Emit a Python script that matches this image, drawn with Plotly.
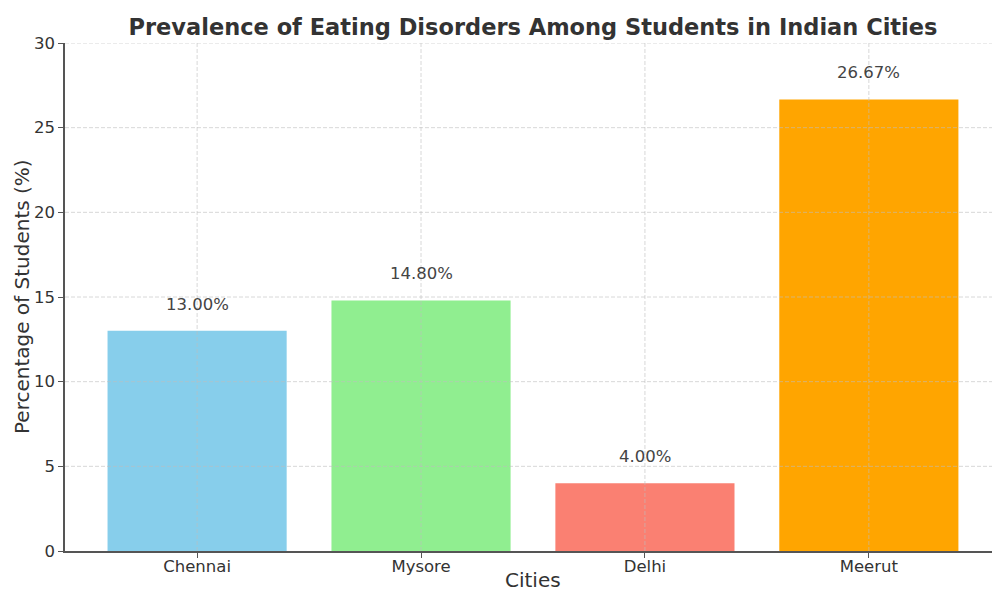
import plotly.graph_objects as go

cities = ["Chennai", "Mysore", "Delhi", "Meerut"]
prevalence = [13.00, 14.80, 4.00, 26.67]
bar_colors = ["#87CEEB", "#90EE90", "#FA8072", "#FFA500"]
y_ticks = [0, 5, 10, 15, 20, 25, 30]

FONT = "DejaVu Sans"
fig = go.Figure()
fig.add_trace(go.Bar(
    x=list(range(len(cities))), y=prevalence, width=0.8,
    marker=dict(color=bar_colors, line=dict(width=0)),
    hoverinfo="skip",
))

for i, v in enumerate(prevalence):
    fig.add_annotation(x=i, y=v, xref="x", yref="y", text=f"{v:.2f}%",
                       showarrow=False, yanchor="bottom", yshift=15,
                       font=dict(family=FONT, size=16.5, color="#444444"))

grid = dict(color="rgba(190,190,190,0.6)", width=1, dash="4px,2px")
for t in y_ticks[1:]:
    fig.add_shape(type="line", xref="paper", yref="y", x0=0, x1=1, y0=t, y1=t,
                  line=grid, layer="above")
for i in range(len(cities)):
    fig.add_shape(type="line", xref="x", yref="paper", x0=i, x1=i, y0=0, y1=1,
                  line=grid, layer="above")

fig.update_layout(
    width=992, height=594,
    margin=dict(l=65, r=0, t=43, b=43),
    paper_bgcolor="white", plot_bgcolor="white",
    showlegend=False,
    font=dict(family=FONT, color="#333333"),
    title=dict(text="<b>Prevalence of Eating Disorders Among Students in Indian Cities</b>",
               x=533 / 992, xanchor="center", y=1 - 27 / 594, yanchor="middle",
               font=dict(family=FONT, size=22.5, color="#333333")),
    xaxis=dict(range=[-0.59, 3.55], tickvals=list(range(len(cities))), ticktext=cities,
               showgrid=False, zeroline=False, showline=True, linecolor="#555555", linewidth=1.5,
               ticks="outside", ticklen=5, tickwidth=1.2, tickcolor="#555555",
               ticklabelstandoff=-6,
               tickfont=dict(family=FONT, size=16.5, color="#333333"), automargin=False),
    yaxis=dict(range=[0, 30], tickvals=y_ticks, showgrid=False, zeroline=False,
               showline=True, linecolor="#555555", linewidth=1.5,
               ticks="outside", ticklen=5, tickwidth=1.2, tickcolor="#555555",
               tickfont=dict(family=FONT, size=16.5, color="#333333"), automargin=False),
)

fig.add_annotation(text="Cities", xref="paper", yref="paper", x=(533 - 65) / 927, y=0,
                   yshift=-43, yanchor="bottom", showarrow=False,
                   font=dict(family=FONT, size=20, color="#333333"))
fig.add_annotation(text="Percentage of Students (%)", xref="paper", yref="paper", x=0, y=0.5,
                   xshift=-43, xanchor="center", textangle=-90, showarrow=False,
                   font=dict(family=FONT, size=20, color="#333333"))

fig.write_html("out.html")
